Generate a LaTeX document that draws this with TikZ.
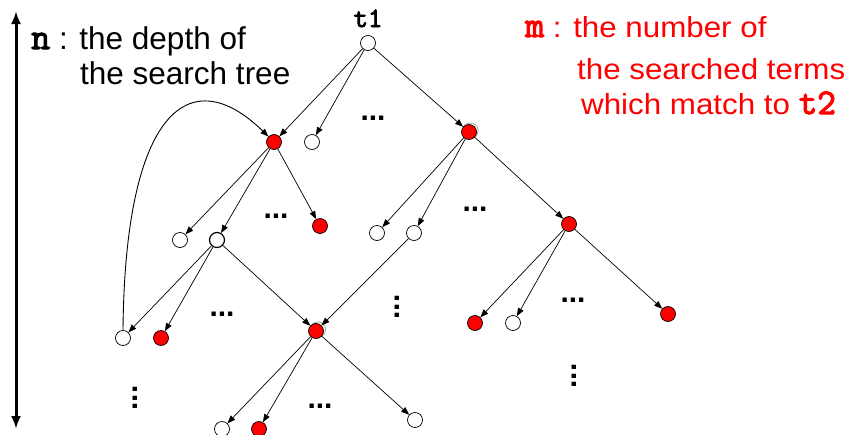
\documentclass[tikz,border=0pt]{standalone}
\usepackage{fontspec}
\setmainfont{Liberation Sans}
\newfontfamily\redfont{Liberation Sans}[FakeStretch=1.08]
\newfontfamily\courb{Latin Modern Mono}[FakeBold=3]
\usetikzlibrary{arrows.meta}
\begin{document}
\begin{tikzpicture}[x=1pt,y=-1pt,
  nd/.style={circle,draw=black,line width=0.7pt,minimum size=15pt,inner sep=0pt},
  wn/.style={nd,fill=white},
  rn/.style={nd,fill=red},
  ring/.style={draw=gray!70,line width=0.8pt},
  edge/.style={line width=0.7pt,-{Triangle[length=8pt,width=6pt]}},
  lbl/.style={font=\fontsize{31.5}{36}\selectfont,anchor=base west,inner sep=0pt},
  rlbl/.style={font=\fontsize{29}{34}\selectfont\redfont,text=red,anchor=base west,inner sep=0pt},
  mono/.style={font=\fontsize{28}{30}\selectfont\courb,anchor=base,inner sep=0pt},
  hdots/.style={font=\fontsize{30}{30}\selectfont\bfseries,anchor=base,inner sep=0pt},
  vdots/.style={hdots,rotate=90},
]
\useasboundingbox (0,0) rectangle (857,434);

% depth arrow
\coordinate (ntop) at (16,11);
\coordinate (nbot) at (16,429);
\draw[line width=3pt,{Latex[length=13pt,width=10pt]}-{Latex[length=13pt,width=10pt]}] (nbot) -- (ntop);

% texts
\node[lbl] (n1) at (31,49) {{\courb\fontsize{37}{38}\selectfont n} : the depth of};
\node[lbl] (n2) at (80,84) {the search tree};
\node[rlbl] (m1) at (525,37) {{\courb\fontsize{37}{38}\selectfont m} : the number of};
\node[rlbl] (m2) at (577,79) {the searched terms};
\node[rlbl] (m3) at (581,114) {which match to {\courb\fontsize{36}{38}\selectfont t2}};
\node[mono] (t1l) at (368,27) {t1};

% rings behind double-outlined nodes
\draw[ring] (470.5,130.5) circle (7.6pt);
\draw[ring] (318,329.5) circle (7.6pt);

% nodes
\node[wn] (t1) at (368,43) {};
\node[rn] (A) at (274,142) {};
\node[wn] (B) at (312,142) {};
\node[rn] (C) at (469,132) {};
\node[wn] (D) at (180,240) {};
\node[wn,line width=1.2pt] (E) at (217,240) {};
\node[rn] (F) at (320,226) {};
\node[wn] (G) at (377,233) {};
\node[wn] (H) at (414,233) {};
\node[rn] (I) at (569,224) {};
\node[wn] (J) at (123,338) {};
\node[rn] (K) at (161,338) {};
\node[rn] (L) at (316,331) {};
\node[rn] (M) at (475,323) {};
\node[wn] (N) at (513,323) {};
\node[rn] (O) at (668,314) {};
\node[wn] (P) at (222,429) {};
\node[rn] (Q) at (259,429) {};
\node[wn] (R) at (415,420) {};

% edges
\draw[edge] (t1) -- (A);
\draw[edge] (t1) -- (B);
\draw[edge] (t1) -- (C);
\draw[edge] (A) -- (D);
\draw[edge] (A) -- (E);
\draw[edge] (A) -- (F);
\draw[edge] (C) -- (G);
\draw[edge] (C) -- (H);
\draw[edge] (C) -- (I);
\draw[edge] (E) -- (J);
\draw[edge] (E) -- (K);
\draw[edge] (E) -- (L);
\draw[edge] (H) -- (L);
\draw[edge] (I) -- (M);
\draw[edge] (I) -- (N);
\draw[edge] (I) -- (O);
\draw[edge] (L) -- (P);
\draw[edge] (L) -- (Q);
\draw[edge] (L) -- (R);
\draw[edge,line width=0.9pt] (J.north) .. controls (125,110) and (190,60) .. (A);

% ellipses
\node[hdots] (d1) at (373,120) {...};
\node[hdots] (d2) at (276,218) {...};
\node[hdots] (d3) at (475,211) {...};
\node[hdots] (d4) at (222,316) {...};
\node[hdots] (d5) at (573,302) {...};
\node[hdots] (d6) at (320,408) {...};
\node[vdots] (v1) at (399,307) {...};
\node[vdots] (v2) at (576,376) {...};
\node[vdots] (v3) at (137,398) {...};
\end{tikzpicture}
\end{document}
